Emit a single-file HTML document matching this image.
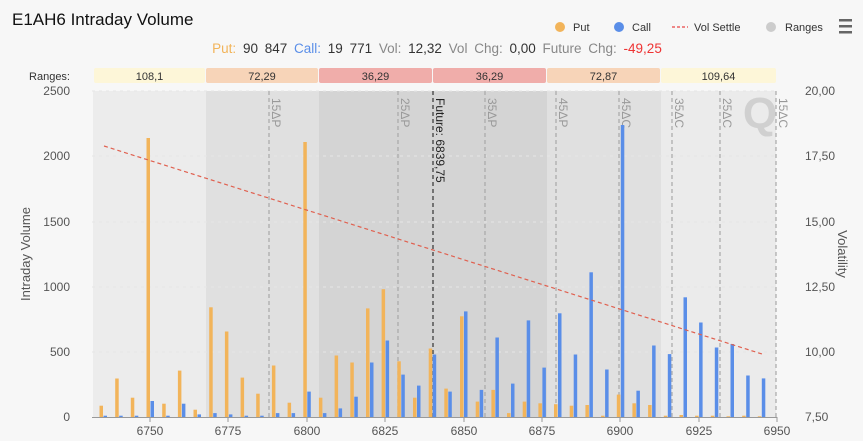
<!DOCTYPE html>
<html><head><meta charset="utf-8"><style>
html,body{margin:0;padding:0;background:#f7f7f7;}
svg{display:block;font-family:"Liberation Sans",sans-serif;}
</style></head><body>
<svg width="863" height="441" viewBox="0 0 863 441" xmlns="http://www.w3.org/2000/svg">
<rect width="863" height="441" fill="#f7f7f7"/>
<text x="12" y="25" font-size="17" fill="#111">E1AH6 Intraday Volume</text>
<circle cx="560" cy="27" r="5" fill="#f2b45a"/><text x="573" y="31" font-size="11" fill="#333">Put</text>
<circle cx="619" cy="27" r="5" fill="#5a8ee8"/><text x="632" y="31" font-size="11" fill="#333">Call</text>
<line x1="672" y1="27" x2="688" y2="27" stroke="#e88" stroke-width="2" stroke-dasharray="3,2"/><text x="694" y="31" font-size="11" fill="#333">Vol Settle</text>
<circle cx="771" cy="27" r="5" fill="#ccc"/><text x="785" y="31" font-size="11" fill="#333">Ranges</text>
<rect x="839" y="19" width="13" height="2.5" fill="#666"/><rect x="839" y="25" width="13" height="2.5" fill="#666"/><rect x="839" y="31" width="13" height="2.5" fill="#666"/>
<text x="437" y="53" font-size="13.5" word-spacing="3" text-anchor="middle" fill="#888"><tspan fill="#f2b45a">Put:</tspan> <tspan fill="#333">90 847</tspan> <tspan fill="#5a8ee8">Call:</tspan> <tspan fill="#333">19 771</tspan> Vol: <tspan fill="#333">12,32</tspan> Vol Chg: <tspan fill="#333">0,00</tspan> Future Chg: <tspan fill="#e33">-49,25</tspan></text>
<text x="70" y="80" font-size="11" text-anchor="end" fill="#333">Ranges:</text>
<g font-size="11" text-anchor="middle" fill="#333">
<rect x="94" y="68" width="111" height="15" rx="2" fill="#fdf6d8"/><text x="149.5" y="80">108,1</text>
<rect x="206" y="68" width="112" height="15" rx="2" fill="#f7d4b8"/><text x="262" y="80">72,29</text>
<rect x="319" y="68" width="113" height="15" rx="2" fill="#f0adaa"/><text x="375.5" y="80">36,29</text>
<rect x="433" y="68" width="113" height="15" rx="2" fill="#f0adaa"/><text x="489.5" y="80">36,29</text>
<rect x="547" y="68" width="113" height="15" rx="2" fill="#f7d4b8"/><text x="603.5" y="80">72,87</text>
<rect x="661" y="68" width="115" height="15" rx="2" fill="#fdf6d8"/><text x="718.5" y="80">109,64</text>
</g>
<rect x="93" y="91" width="113" height="326" fill="#ececec"/>
<rect x="206" y="91" width="113" height="326" fill="#e0e0e0"/>
<rect x="319" y="91" width="228" height="326" fill="#d4d4d4"/>
<rect x="547" y="91" width="114" height="326" fill="#e0e0e0"/>
<rect x="661" y="91" width="115" height="326" fill="#ebebeb"/>
<g stroke="#e6e6e6" stroke-dasharray="3,4" stroke-width="1">
<line x1="92" y1="91" x2="777" y2="91"/><line x1="92" y1="156" x2="777" y2="156"/><line x1="92" y1="222" x2="777" y2="222"/><line x1="92" y1="287" x2="777" y2="287"/><line x1="92" y1="352" x2="777" y2="352"/>
</g>
<text x="760" y="128" font-size="44" font-weight="bold" fill="#d0d0d0" text-anchor="middle">Q</text>
<g stroke="#a8a8a8" stroke-dasharray="4,3" stroke-width="1.2">
<line x1="269" y1="91" x2="269" y2="417"/><line x1="398" y1="91" x2="398" y2="417"/><line x1="485" y1="91" x2="485" y2="417"/><line x1="556" y1="91" x2="556" y2="417"/><line x1="619" y1="91" x2="619" y2="417"/><line x1="672" y1="91" x2="672" y2="417"/><line x1="720" y1="91" x2="720" y2="417"/><line x1="776" y1="91" x2="776" y2="417"/>
</g>
<line x1="433" y1="91" x2="433" y2="417" stroke="#333" stroke-dasharray="4,3" stroke-width="1.2"/>
<g font-size="12" fill="#999">
<text transform="translate(272,98) rotate(90)">15ΔP</text>
<text transform="translate(401,98) rotate(90)">25ΔP</text>
<text transform="translate(488,98) rotate(90)">35ΔP</text>
<text transform="translate(559,98) rotate(90)">45ΔP</text>
<text transform="translate(622,98) rotate(90)">45ΔC</text>
<text transform="translate(675,98) rotate(90)">35ΔC</text>
<text transform="translate(723,98) rotate(90)">25ΔC</text>
<text transform="translate(779,98) rotate(90)">15ΔC</text>
</g>
<text transform="translate(436,98) rotate(90)" font-size="12" fill="#222">Future: 6839,75</text>
<g fill="#f2b45a">
<rect x="99.5" y="405.7" width="3.5" height="11.3"/>
<rect x="115.2" y="378.5" width="3.5" height="38.5"/>
<rect x="130.8" y="397.7" width="3.5" height="19.3"/>
<rect x="146.5" y="138" width="3.5" height="279"/>
<rect x="162.2" y="403.7" width="3.5" height="13.3"/>
<rect x="177.9" y="370.6" width="3.5" height="46.4"/>
<rect x="193.5" y="409.7" width="3.5" height="7.3"/>
<rect x="209.2" y="307.3" width="3.5" height="109.7"/>
<rect x="224.9" y="331.5" width="3.5" height="85.5"/>
<rect x="240.6" y="377.6" width="3.5" height="39.4"/>
<rect x="256.2" y="393.7" width="3.5" height="23.3"/>
<rect x="271.9" y="365.5" width="3.5" height="51.5"/>
<rect x="287.6" y="402.7" width="3.5" height="14.3"/>
<rect x="303.3" y="142" width="3.5" height="275"/>
<rect x="318.9" y="397.7" width="3.5" height="19.3"/>
<rect x="334.6" y="355.5" width="3.5" height="61.5"/>
<rect x="350.3" y="362.5" width="3.5" height="54.5"/>
<rect x="366" y="308.4" width="3.5" height="108.6"/>
<rect x="381.6" y="289.2" width="3.5" height="127.8"/>
<rect x="397.3" y="361.3" width="3.5" height="55.7"/>
<rect x="413" y="397.7" width="3.5" height="19.3"/>
<rect x="428.7" y="348.5" width="3.5" height="68.5"/>
<rect x="444.3" y="388.6" width="3.5" height="28.4"/>
<rect x="460" y="316.3" width="3.5" height="100.7"/>
<rect x="475.7" y="401.6" width="3.5" height="15.4"/>
<rect x="491.4" y="389.9" width="3.5" height="27.1"/>
<rect x="507" y="413.1" width="3.5" height="3.9"/>
<rect x="522.7" y="401.6" width="3.5" height="15.4"/>
<rect x="538.4" y="403.3" width="3.5" height="13.7"/>
<rect x="554" y="404.2" width="3.5" height="12.8"/>
<rect x="569.7" y="405.7" width="3.5" height="11.3"/>
<rect x="585.4" y="405" width="3.5" height="12"/>
<rect x="601.1" y="415.7" width="3.5" height="1.3"/>
<rect x="616.8" y="394.6" width="3.5" height="22.4"/>
<rect x="632.4" y="403.3" width="3.5" height="13.7"/>
<rect x="648.1" y="405" width="3.5" height="12"/>
<rect x="663.8" y="415.7" width="3.5" height="1.3"/>
<rect x="679.5" y="415" width="3.5" height="2"/>
<rect x="695.1" y="415.7" width="3.5" height="1.3"/>
<rect x="710.8" y="415.7" width="3.5" height="1.3"/>
<rect x="726.5" y="416.3" width="3.5" height="0.7"/>
<rect x="742.2" y="415.7" width="3.5" height="1.3"/>
<rect x="757.8" y="416.3" width="3.5" height="0.7"/>
</g>
<g fill="#5a8ee8">
<rect x="103.5" y="415.7" width="3.5" height="1.3"/>
<rect x="119.2" y="415.7" width="3.5" height="1.3"/>
<rect x="134.8" y="415.7" width="3.5" height="1.3"/>
<rect x="150.5" y="401" width="3.5" height="16"/>
<rect x="166.2" y="415.7" width="3.5" height="1.3"/>
<rect x="181.9" y="403.7" width="3.5" height="13.3"/>
<rect x="197.5" y="414.4" width="3.5" height="2.6"/>
<rect x="213.2" y="413.1" width="3.5" height="3.9"/>
<rect x="228.9" y="414.4" width="3.5" height="2.6"/>
<rect x="244.6" y="415.7" width="3.5" height="1.3"/>
<rect x="260.2" y="415.7" width="3.5" height="1.3"/>
<rect x="275.9" y="413.1" width="3.5" height="3.9"/>
<rect x="291.6" y="413.1" width="3.5" height="3.9"/>
<rect x="307.3" y="391.6" width="3.5" height="25.4"/>
<rect x="322.9" y="413.1" width="3.5" height="3.9"/>
<rect x="338.6" y="408.4" width="3.5" height="8.6"/>
<rect x="354.3" y="396.7" width="3.5" height="20.3"/>
<rect x="370" y="362.5" width="3.5" height="54.5"/>
<rect x="385.6" y="340.5" width="3.5" height="76.5"/>
<rect x="401.3" y="374.6" width="3.5" height="42.4"/>
<rect x="417" y="385.6" width="3.5" height="31.4"/>
<rect x="432.7" y="354.5" width="3.5" height="62.5"/>
<rect x="448.3" y="391.6" width="3.5" height="25.4"/>
<rect x="464" y="311.4" width="3.5" height="105.6"/>
<rect x="479.7" y="389.9" width="3.5" height="27.1"/>
<rect x="495.4" y="337.5" width="3.5" height="79.5"/>
<rect x="511" y="383.6" width="3.5" height="33.4"/>
<rect x="526.7" y="320.4" width="3.5" height="96.6"/>
<rect x="542.4" y="367.6" width="3.5" height="49.4"/>
<rect x="558" y="313.3" width="3.5" height="103.7"/>
<rect x="573.7" y="354.5" width="3.5" height="62.5"/>
<rect x="589.4" y="272.3" width="3.5" height="144.7"/>
<rect x="605.1" y="369.5" width="3.5" height="47.5"/>
<rect x="620.8" y="125" width="3.5" height="292"/>
<rect x="636.4" y="390.7" width="3.5" height="26.3"/>
<rect x="652.1" y="345.5" width="3.5" height="71.5"/>
<rect x="667.8" y="354.1" width="3.5" height="62.9"/>
<rect x="683.5" y="297.3" width="3.5" height="119.7"/>
<rect x="699.1" y="322.5" width="3.5" height="94.5"/>
<rect x="714.8" y="347.5" width="3.5" height="69.5"/>
<rect x="730.5" y="344" width="3.5" height="73"/>
<rect x="746.2" y="375.5" width="3.5" height="41.5"/>
<rect x="761.8" y="378.4" width="3.5" height="38.6"/>
</g>
<line x1="104" y1="146" x2="762" y2="354" stroke="#e0604f" stroke-width="1.2" stroke-dasharray="4,3"/>
<line x1="92" y1="417.5" x2="777" y2="417.5" stroke="#999"/>
<g stroke="#999">
<line x1="150" y1="417" x2="150" y2="422"/><line x1="228" y1="417" x2="228" y2="422"/><line x1="307" y1="417" x2="307" y2="422"/><line x1="385" y1="417" x2="385" y2="422"/><line x1="464" y1="417" x2="464" y2="422"/><line x1="542" y1="417" x2="542" y2="422"/><line x1="620" y1="417" x2="620" y2="422"/><line x1="699" y1="417" x2="699" y2="422"/><line x1="777" y1="417" x2="777" y2="422"/>
</g>
<g font-size="12" fill="#555" text-anchor="middle">
<text x="150" y="435">6750</text><text x="228" y="435">6775</text><text x="307" y="435">6800</text><text x="385" y="435">6825</text><text x="464" y="435">6850</text><text x="542" y="435">6875</text><text x="620" y="435">6900</text><text x="699" y="435">6925</text><text x="777" y="435">6950</text>
</g>
<g font-size="12" fill="#555" text-anchor="end">
<text x="70" y="95">2500</text><text x="70" y="160">2000</text><text x="70" y="226">1500</text><text x="70" y="291">1000</text><text x="70" y="356">500</text><text x="70" y="421">0</text>
</g>
<g font-size="12" fill="#555">
<text x="805" y="95">20,00</text><text x="805" y="160">17,50</text><text x="805" y="226">15,00</text><text x="805" y="291">12,50</text><text x="805" y="356">10,00</text><text x="805" y="421">7,50</text>
</g>
<text transform="translate(30,254) rotate(-90)" font-size="13" fill="#555" text-anchor="middle">Intraday Volume</text>
<text transform="translate(838,254) rotate(90)" font-size="13" fill="#555" text-anchor="middle">Volatility</text>
</svg>
</body></html>
